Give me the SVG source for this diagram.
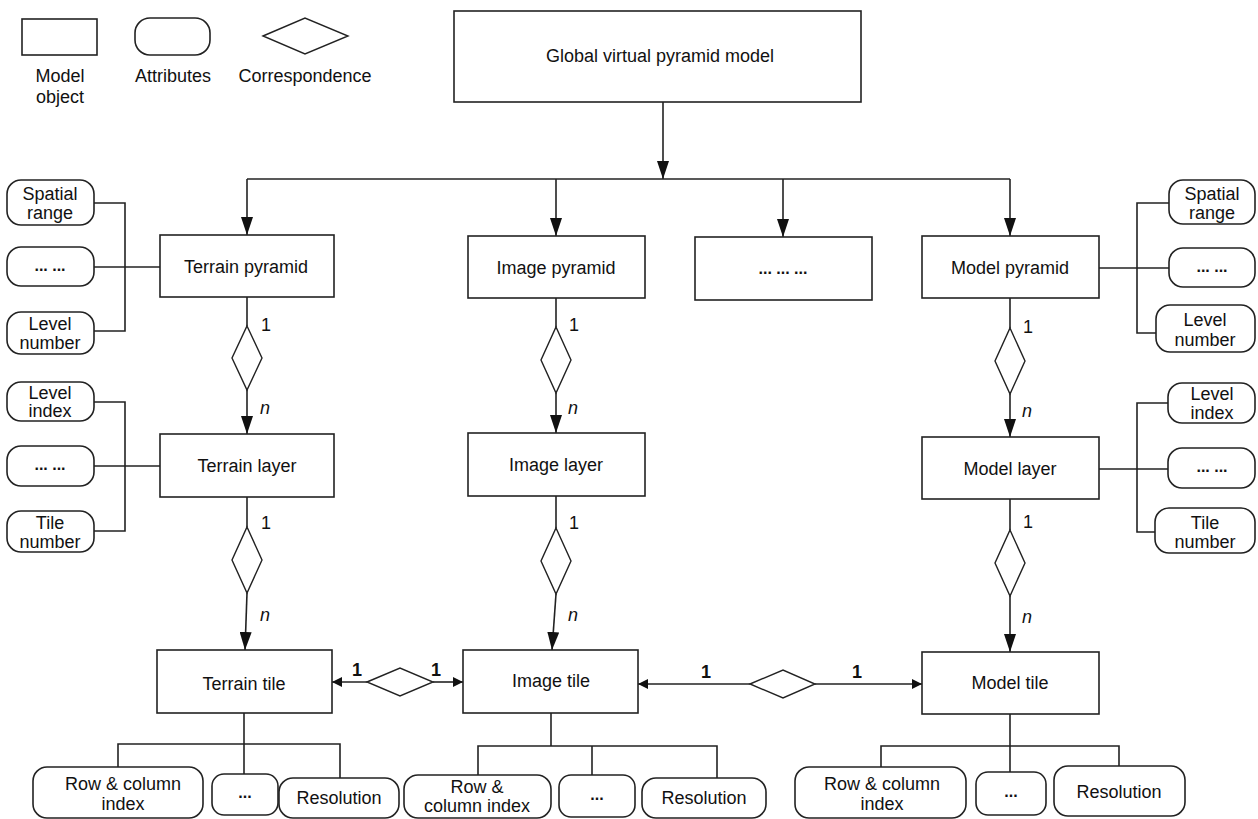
<svg xmlns="http://www.w3.org/2000/svg" width="1258" height="819" viewBox="0 0 1258 819">
<style>
  .box{fill:#fff;stroke:#222;stroke-width:1.6}
  .attr{fill:#fff;stroke:#222;stroke-width:1.6}
  .dia{fill:#fff;stroke:#222;stroke-width:1.4}
  .ln{fill:none;stroke:#222;stroke-width:1.6}
  text{font-family:"Liberation Sans",Arial,sans-serif;font-size:18px;fill:#111;text-anchor:middle}
  .dots{font-weight:bold;font-size:16px}
  .lab{text-anchor:start}
  .it{font-style:italic;text-anchor:start}
  .b1{font-weight:bold;text-anchor:middle}
</style>
<defs>
  <marker id="big" viewBox="0 0 18 12" refX="18" refY="6" markerWidth="18" markerHeight="12" markerUnits="userSpaceOnUse" orient="auto">
    <path d="M0,0 L18,6 L0,12 z" fill="#111"/>
  </marker>
  <marker id="sm" viewBox="0 0 10 10" refX="10" refY="5" markerWidth="10" markerHeight="10" markerUnits="userSpaceOnUse" orient="auto">
    <path d="M0,0 L10,5 L0,10 z" fill="#111"/>
  </marker>
</defs>
<rect width="1258" height="819" fill="#fff"/>

<g id="legend">
  <rect class="box" x="22" y="19" width="75" height="36"/>
  <text x="60" y="82">Model</text>
  <text x="60" y="103">object</text>
  <rect class="attr" x="135" y="18" width="75" height="37" rx="15"/>
  <text x="173" y="82">Attributes</text>
  <polygon class="dia" points="263,36 305,18 348,36 305,54"/>
  <text x="305" y="82">Correspondence</text>
</g>

<g id="connectors">
  <line class="ln" x1="663" y1="102" x2="663" y2="179" marker-end="url(#big)"/>
  <line class="ln" x1="247" y1="179" x2="1010" y2="179"/>
  <line class="ln" x1="247" y1="179" x2="247" y2="235" marker-end="url(#big)"/>
  <line class="ln" x1="556" y1="179" x2="556" y2="236" marker-end="url(#big)"/>
  <line class="ln" x1="783" y1="179" x2="783" y2="237" marker-end="url(#big)"/>
  <line class="ln" x1="1010" y1="179" x2="1010" y2="236" marker-end="url(#big)"/>

  <line class="ln" x1="247" y1="297" x2="247" y2="326"/>
  <polygon class="dia" points="247,326 262,358 247,390 232,358"/>
  <line class="ln" x1="247" y1="390" x2="247" y2="434" marker-end="url(#big)"/>
  <line class="ln" x1="247" y1="497" x2="247" y2="527"/>
  <polygon class="dia" points="247,527 262,560 247,593 232,560"/>
  <line class="ln" x1="247" y1="593" x2="245" y2="650" marker-end="url(#big)"/>

  <line class="ln" x1="556" y1="298" x2="556" y2="327"/>
  <polygon class="dia" points="556,327 571,360 556,393 541,360"/>
  <line class="ln" x1="556" y1="393" x2="556" y2="433" marker-end="url(#big)"/>
  <line class="ln" x1="556" y1="496" x2="556" y2="528"/>
  <polygon class="dia" points="556,528 571,561 556,594 541,561"/>
  <line class="ln" x1="556" y1="594" x2="552" y2="650" marker-end="url(#big)"/>

  <line class="ln" x1="1010" y1="298" x2="1010" y2="328"/>
  <polygon class="dia" points="1010,328 1025,361 1010,394 995,361"/>
  <line class="ln" x1="1010" y1="394" x2="1010" y2="437" marker-end="url(#big)"/>
  <line class="ln" x1="1010" y1="499" x2="1010" y2="530"/>
  <polygon class="dia" points="1010,530 1025,563 1010,596 995,563"/>
  <line class="ln" x1="1010" y1="596" x2="1010" y2="652" marker-end="url(#big)"/>

  <line class="ln" x1="367" y1="682" x2="332" y2="682" marker-end="url(#sm)"/>
  <polygon class="dia" points="367,682 400,668 433,682 400,696"/>
  <line class="ln" x1="433" y1="682" x2="463" y2="682" marker-end="url(#sm)"/>
  <line class="ln" x1="750" y1="684" x2="638" y2="684" marker-end="url(#sm)"/>
  <polygon class="dia" points="750,684 783,670 815,684 783,698"/>
  <line class="ln" x1="815" y1="684" x2="922" y2="684" marker-end="url(#sm)"/>

  <polyline class="ln" points="94,203 125,203 125,331 94,331"/>
  <line class="ln" x1="94" y1="267" x2="160" y2="267"/>
  <polyline class="ln" points="94,402 125,402 125,531 94,531"/>
  <line class="ln" x1="94" y1="466" x2="160" y2="466"/>
  <polyline class="ln" points="1169,203 1137,203 1137,333 1156,333"/>
  <line class="ln" x1="1099" y1="268" x2="1169" y2="268"/>
  <polyline class="ln" points="1168,403 1137,403 1137,532 1155,532"/>
  <line class="ln" x1="1099" y1="469" x2="1168" y2="469"/>

  <line class="ln" x1="244" y1="713" x2="244" y2="774"/>
  <polyline class="ln" points="118,767 118,744 340,744 340,778"/>
  <line class="ln" x1="551" y1="713" x2="551" y2="746"/>
  <polyline class="ln" points="478,775 478,746 717,746 717,778"/>
  <line class="ln" x1="592" y1="746" x2="592" y2="775"/>
  <line class="ln" x1="1010" y1="714" x2="1010" y2="772"/>
  <polyline class="ln" points="881,767 881,746 1119,746 1119,766"/>
</g>

<g id="cardinalities">
  <text class="lab" x="261" y="331">1</text>
  <text class="it" x="260" y="414">n</text>
  <text class="lab" x="261" y="529">1</text>
  <text class="it" x="260" y="621">n</text>
  <text class="lab" x="569" y="331">1</text>
  <text class="it" x="568" y="414">n</text>
  <text class="lab" x="569" y="529">1</text>
  <text class="it" x="568" y="621">n</text>
  <text class="lab" x="1023" y="333">1</text>
  <text class="it" x="1022" y="417">n</text>
  <text class="lab" x="1023" y="528">1</text>
  <text class="it" x="1022" y="623">n</text>
  <text class="b1" x="357" y="676">1</text>
  <text class="b1" x="436" y="676">1</text>
  <text class="b1" x="706" y="678">1</text>
  <text class="b1" x="857" y="678">1</text>
</g>

<g id="global">
  <rect class="box" x="454" y="11" width="407" height="91"/>
  <text x="660" y="62">Global virtual pyramid model</text>
</g>
<g id="terrain-pyramid">
  <rect class="box" x="160" y="235" width="174" height="62"/>
  <text x="246" y="273">Terrain pyramid</text>
</g>
<g id="image-pyramid">
  <rect class="box" x="468" y="236" width="177" height="62"/>
  <text x="556" y="274">Image pyramid</text>
</g>
<g id="other-pyramid">
  <rect class="box" x="695" y="237" width="177" height="63"/>
  <text class="dots" x="783" y="274">... ... ...</text>
</g>
<g id="model-pyramid">
  <rect class="box" x="922" y="236" width="177" height="62"/>
  <text x="1010" y="274">Model pyramid</text>
</g>
<g id="terrain-layer">
  <rect class="box" x="160" y="434" width="174" height="63"/>
  <text x="247" y="472">Terrain layer</text>
</g>
<g id="image-layer">
  <rect class="box" x="468" y="433" width="177" height="63"/>
  <text x="556" y="471">Image layer</text>
</g>
<g id="model-layer">
  <rect class="box" x="922" y="437" width="177" height="62"/>
  <text x="1010" y="475">Model layer</text>
</g>
<g id="terrain-tile">
  <rect class="box" x="157" y="650" width="175" height="63"/>
  <text x="244" y="690">Terrain tile</text>
</g>
<g id="image-tile">
  <rect class="box" x="463" y="650" width="175" height="63"/>
  <text x="551" y="687">Image tile</text>
</g>
<g id="model-tile">
  <rect class="box" x="922" y="652" width="177" height="62"/>
  <text x="1010" y="689">Model tile</text>
</g>

<g id="tp-spatial-range">
  <rect class="attr" x="7" y="180" width="87" height="45" rx="14"/>
  <text x="50" y="200">Spatial</text>
  <text x="50" y="219">range</text>
</g>
<g id="tp-dots">
  <rect class="attr" x="7" y="247" width="87" height="39" rx="14"/>
  <text class="dots" x="50" y="271">... ...</text>
</g>
<g id="tp-level-number">
  <rect class="attr" x="7" y="312" width="87" height="42" rx="14"/>
  <text x="50" y="330">Level</text>
  <text x="50" y="349">number</text>
</g>
<g id="tl-level-index">
  <rect class="attr" x="7" y="382" width="87" height="39" rx="14"/>
  <text x="50" y="399">Level</text>
  <text x="50" y="417">index</text>
</g>
<g id="tl-dots">
  <rect class="attr" x="7" y="446" width="87" height="40" rx="14"/>
  <text class="dots" x="50" y="470">... ...</text>
</g>
<g id="tl-tile-number">
  <rect class="attr" x="7" y="511" width="87" height="41" rx="14"/>
  <text x="50" y="529">Tile</text>
  <text x="50" y="548">number</text>
</g>

<g id="mp-spatial-range">
  <rect class="attr" x="1169" y="180" width="86" height="44" rx="14"/>
  <text x="1212" y="200">Spatial</text>
  <text x="1212" y="219">range</text>
</g>
<g id="mp-dots">
  <rect class="attr" x="1169" y="248" width="86" height="39" rx="14"/>
  <text class="dots" x="1212" y="272">... ...</text>
</g>
<g id="mp-level-number">
  <rect class="attr" x="1156" y="305" width="99" height="47" rx="14"/>
  <text x="1205" y="326">Level</text>
  <text x="1205" y="346">number</text>
</g>
<g id="ml-level-index">
  <rect class="attr" x="1168" y="383" width="87" height="40" rx="14"/>
  <text x="1212" y="400">Level</text>
  <text x="1212" y="419">index</text>
</g>
<g id="ml-dots">
  <rect class="attr" x="1168" y="448" width="87" height="40" rx="14"/>
  <text class="dots" x="1212" y="472">... ...</text>
</g>
<g id="ml-tile-number">
  <rect class="attr" x="1155" y="508" width="100" height="45" rx="14"/>
  <text x="1205" y="529">Tile</text>
  <text x="1205" y="548">number</text>
</g>

<g id="tt-row-col">
  <rect class="attr" x="33" y="767" width="170" height="51" rx="14"/>
  <text x="123" y="790">Row &amp; column</text>
  <text x="123" y="810">index</text>
</g>
<g id="tt-dots">
  <rect class="attr" x="212" y="774" width="66" height="41" rx="12"/>
  <text class="dots" x="245" y="798">...</text>
</g>
<g id="tt-resolution">
  <rect class="attr" x="279" y="778" width="120" height="40" rx="14"/>
  <text x="339" y="804">Resolution</text>
</g>
<g id="it-row-col">
  <rect class="attr" x="404" y="775" width="147" height="43" rx="14"/>
  <text x="477" y="793">Row &amp;</text>
  <text x="477" y="812">column index</text>
</g>
<g id="it-dots">
  <rect class="attr" x="559" y="775" width="76" height="42" rx="12"/>
  <text class="dots" x="597" y="800">...</text>
</g>
<g id="it-resolution">
  <rect class="attr" x="642" y="778" width="124" height="40" rx="14"/>
  <text x="704" y="804">Resolution</text>
</g>
<g id="mt-row-col">
  <rect class="attr" x="795" y="767" width="171" height="51" rx="14"/>
  <text x="882" y="790">Row &amp; column</text>
  <text x="882" y="810">index</text>
</g>
<g id="mt-dots">
  <rect class="attr" x="976" y="772" width="70" height="43" rx="12"/>
  <text class="dots" x="1011" y="797">...</text>
</g>
<g id="mt-resolution">
  <rect class="attr" x="1054" y="766" width="131" height="50" rx="14"/>
  <text x="1119" y="798">Resolution</text>
</g>
</svg>
